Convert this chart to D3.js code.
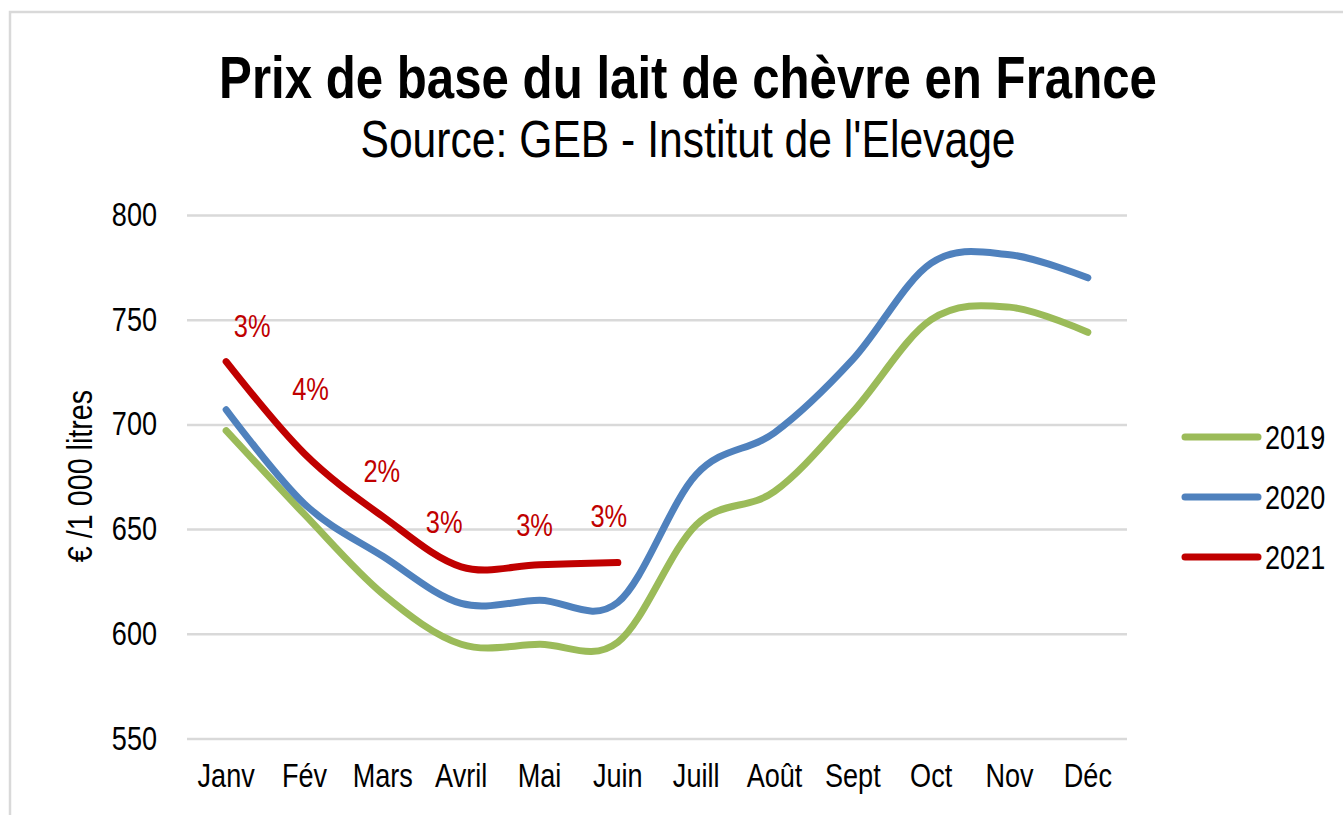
<!DOCTYPE html>
<html>
<head>
<meta charset="utf-8">
<script src="https://cdn.jsdelivr.net/npm/d3@7"></script>
<style>
  body { margin: 0; background: #fff; }
  svg text { font-family: 'Liberation Sans', Arial, sans-serif; }
</style>
</head>
<body>
<div id="chart"></div>
<script>
// mois
const mois = ["Janv", "Fév", "Mars", "Avril", "Mai", "Juin", "Juill", "Août", "Sept", "Oct", "Nov", "Déc"];
// prix de base (€ / 1 000 litres)
const prix2019 = [697, 657, 619, 595, 595, 596, 652, 668, 706, 750, 756, 744];
const prix2020 = [707, 662, 637, 614.5, 616, 615, 676, 696, 731, 777, 781, 770];
const prix2021 = [730, 686, 656, 632, 633, 634];
// variations 2021 / 2020
const variations = ["3%", "4%", "2%", "3%", "3%", "3%"];
const annees = ["2019", "2020", "2021"];
const yTicks = [550, 600, 650, 700, 750, 800];

const couleurs = { "2019": "#9BBB59", "2020": "#4F81BD", "2021": "#C00000" };
// décalage des étiquettes par rapport au point (px)
const decalages = [[26, -25], [6, -54], [-1, -35], [-17, -34], [-5, -29], [-9, -36]];

const width = 1343, height = 815;
const svg = d3.select("#chart").append("svg")
  .attr("width", width).attr("height", height);

// cadre
svg.append("rect")
  .attr("x", 10).attr("y", 12)
  .attr("width", 1400).attr("height", 900)
  .attr("fill", "none").attr("stroke", "#D9D9D9").attr("stroke-width", 2.5);

const x = d3.scaleBand().domain(mois).range([187, 1127]);
const y = d3.scaleLinear().domain([550, 800]).range([738.5, 215]);

// grille
svg.append("g")
  .attr("transform", "translate(187,0)")
  .call(d3.axisLeft(y).tickValues(yTicks).tickSize(-(1127 - 187)).tickFormat(""))
  .call(g => g.select(".domain").remove())
  .call(g => g.selectAll("line").attr("stroke", "#D9D9D9").attr("stroke-width", 2.5));

// axe y
svg.append("g")
  .attr("transform", "translate(187,0)")
  .call(d3.axisLeft(y).tickValues(yTicks).tickSize(0).tickPadding(30))
  .call(g => g.select(".domain").remove())
  .call(g => g.selectAll("text").attr("font-size", 33).attr("fill", "#000")
    .style("font-family", "'Liberation Sans', Arial, sans-serif"));

// axe x
svg.append("g")
  .attr("transform", "translate(0,738.5)")
  .call(d3.axisBottom(x).tickSize(0).tickPadding(25))
  .call(g => g.select(".domain").remove())
  .call(g => g.selectAll("text").attr("font-size", 33).attr("fill", "#000")
    .style("font-family", "'Liberation Sans', Arial, sans-serif"));

// titre (resserré par transformation)
svg.append("text")
  .attr("class", "titre")
  .attr("transform", "translate(688,98) scale(0.82,1)")
  .attr("text-anchor", "middle")
  .attr("font-size", 60).attr("font-weight", "bold")
  .text("Prix de base du lait de chèvre en France");
svg.append("text")
  .attr("class", "titre")
  .attr("transform", "translate(688,157) scale(0.82,1)")
  .attr("text-anchor", "middle")
  .attr("font-size", 52)
  .text("Source: GEB - Institut de l'Elevage");

// titre axe y
svg.append("text")
  .attr("transform", "translate(92,476) rotate(-90)")
  .attr("text-anchor", "middle")
  .attr("font-size", 35)
  .text("€ /1 000 litres");

// courbes
const line = d3.line()
  .x((d, i) => x(mois[i]) + x.bandwidth() / 2)
  .y(d => y(d))
  .curve(d3.curveCardinal.tension(0));

const series = [["2019", prix2019], ["2020", prix2020], ["2021", prix2021]];
series.forEach(([an, vals]) => {
  svg.append("path")
    .datum(vals)
    .attr("fill", "none")
    .attr("stroke", couleurs[an])
    .attr("stroke-width", 7)
    .attr("stroke-linecap", "round")
    .attr("stroke-linejoin", "round")
    .attr("d", line);
});

// étiquettes variations
svg.append("g").selectAll("text")
  .data(variations)
  .join("text")
  .attr("x", (d, i) => x(mois[i]) + x.bandwidth() / 2 + decalages[i][0])
  .attr("y", (d, i) => y(prix2021[i]) + decalages[i][1])
  .attr("text-anchor", "middle")
  .attr("font-size", 31)
  .attr("fill", "#C00000")
  .text(d => d);

// légende
const legende = svg.append("g");
annees.forEach((an, i) => {
  const ly = 437 + i * 60;
  legende.append("line")
    .attr("x1", 1185).attr("x2", 1258)
    .attr("y1", ly).attr("y2", ly)
    .attr("stroke", couleurs[an]).attr("stroke-width", 7)
    .attr("stroke-linecap", "round");
  legende.append("text")
    .attr("x", 1265).attr("y", ly + 12)
    .attr("font-size", 33)
    .text(an);
});

// police étroite (type Arial Narrow) : on resserre les autres textes
svg.selectAll("text:not(.titre)").each(function() {
  const l = this.getComputedTextLength();
  d3.select(this).attr("textLength", l * 0.82).attr("lengthAdjust", "spacingAndGlyphs");
});
</script>
</body>
</html>
